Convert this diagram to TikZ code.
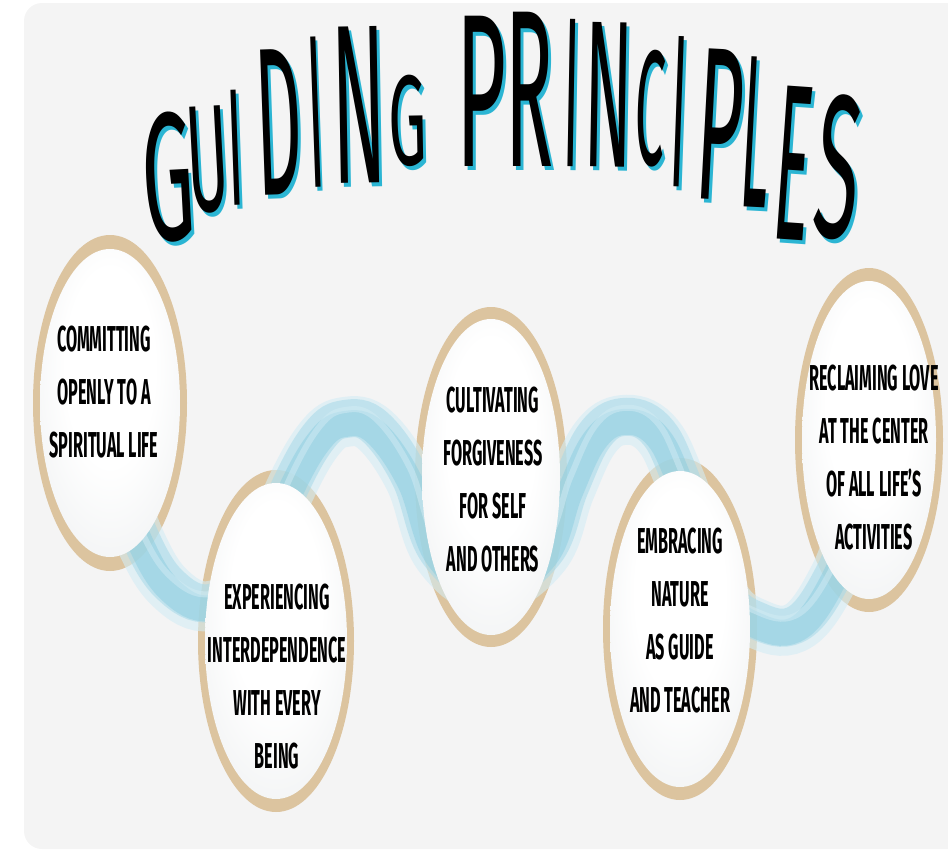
\documentclass[tikz,border=0pt]{standalone}
\usepackage{fontspec}
\setmainfont{Fira Sans}
\usepackage{graphicx}
\definecolor{bgc}{HTML}{F4F4F4}
\definecolor{ringc}{HTML}{DCC49F}
\definecolor{eggmid}{HTML}{EDEFF0}
\definecolor{eggedge}{HTML}{CDD2D5}
\definecolor{shadowc}{HTML}{2BB5D3}
\definecolor{bandA}{HTML}{D3ECF4}
\definecolor{bandB}{HTML}{A7D9E8}
\definecolor{bandC}{HTML}{86CBDF}
\pgfdeclareradialshading{eggshade}{\pgfpoint{0bp}{8bp}}{color(0bp)=(white); color(16bp)=(white); color(38bp)=(eggmid); color(50bp)=(eggedge); color(60bp)=(eggedge)}
\newcommand\sqz[1]{\scalebox{0.45}[1]{\begin{tabular}{@{}c@{}}#1\end{tabular}}}
\newcommand\tletter[7]{%
  \node[tlet, text=shadowc, rotate=#6] at ([xshift=3pt,yshift=-4pt]#2,#3) {\resizebox{#4pt}{#5pt}{#7}};
  \node[tlet, rotate=#6] (#1) at (#2,#3) {\resizebox{#4pt}{#5pt}{#7}};}
\begin{document}
\begin{tikzpicture}[x=1pt,y=-1pt,
  eggtext/.style={inner sep=0pt, font=\fontsize{36}{53}\selectfont\bfseries, text=black},
  tlet/.style={inner sep=0pt, anchor=south, font=\mdseries},
  ring/.style={fill=ringc},
  egg/.style={shading=eggshade}]
\useasboundingbox (0,0) rectangle (948,852);
\clip (0,0) rectangle (948,852);
\fill[bgc, rounded corners=18pt] (24,3) rectangle (985,849);
% centres
\coordinate (c1) at (110,403);
\coordinate (c2) at (276,641);
\coordinate (c3) at (491,477);
\coordinate (c4) at (680,629);
\coordinate (c5) at (869,440);
% rings
\fill[ring] (c1) ellipse [x radius=77pt, y radius=168pt];
\fill[ring] (c2) ellipse [x radius=78pt, y radius=171pt];
\fill[ring] (c3) ellipse [x radius=76pt, y radius=170pt];
\fill[ring] (c4) ellipse [x radius=77pt, y radius=171pt];
\fill[ring] (c5) ellipse [x radius=74pt, y radius=172pt];
% wave band
\def\wave{plot[smooth, tension=0.65] coordinates {(115,470) (140,540) (170,588) (210,606) (255,575) (290,490) (320,438) (345,422) (375,430) (410,480) (438,555) (490,590) (545,555) (570,490) (595,438) (623,420) (655,432) (680,480) (720,590) (760,625) (800,625) (835,575) (855,520)}}
\draw[bandA, line width=50pt, opacity=0.6] \wave;
\draw[bandB, line width=38pt, opacity=0.55, yshift=3pt] \wave;
\draw[bandC, line width=26pt, opacity=0.45, yshift=-2pt] \wave;
\draw[bandA, line width=6pt, opacity=0.5, yshift=12pt] \wave;
% inner eggs
\shade[egg] (c1) ellipse [x radius=70pt, y radius=154pt];
\shade[egg] (c2) ellipse [x radius=71pt, y radius=158pt];
\shade[egg] (c3) ellipse [x radius=69pt, y radius=158pt];
\shade[egg] (c4) ellipse [x radius=70pt, y radius=158pt];
\shade[egg] (c5) ellipse [x radius=67pt, y radius=159pt];
% texts
\node[eggtext] (t1) at (104,394) {\sqz{COMMITTING\\OPENLY TO A\\SPIRITUAL LIFE}};
\node[eggtext] (t2) at (277,678) {\sqz{EXPERIENCING\\INTERDEPENDENCE\\WITH EVERY\\BEING}};
\node[eggtext] (t3) at (493,481) {\sqz{CULTIVATING\\FORGIVENESS\\FOR SELF\\AND OTHERS}};
\node[eggtext] (t4) at (680,622) {\sqz{EMBRACING\\NATURE\\AS GUIDE\\AND TEACHER}};
\node[eggtext] (t5) at (874,459) {\sqz{RECLAIMING LOVE\\AT THE CENTER\\OF ALL LIFE'S\\ACTIVITIES}};
% title
\tletter{g1}{172}{243}{52}{128}{3}{G}
\tletter{u1}{211}{213}{42}{105}{3}{U}
\tletter{i1}{238}{205}{16}{115}{2}{I}
\tletter{d1}{281}{195}{46}{145}{2}{D}
\tletter{i2}{318}{187}{16}{150}{2}{I}
\tletter{n1}{361}{183}{54}{156}{1}{N}
\tletter{g2}{409}{167}{38}{90}{1}{G}
\tletter{p1}{482}{167}{50}{150}{0}{P}
\tletter{r1}{530}{167}{48}{154}{0}{R}
\tletter{i3}{570}{167}{16}{147}{-1}{I}
\tletter{n2}{607}{167}{48}{144}{-1}{N}
\tletter{c6}{648}{167}{30}{115}{-2}{C}
\tletter{i4}{676}{187}{16}{150}{-2}{I}
\tletter{p2}{716}{200}{46}{150}{-3}{P}
\tletter{l1}{752}{207}{28}{150}{-3}{L}
\tletter{e1}{788}{240}{36}{153}{-4}{E}
\tletter{s1}{832}{240}{44}{143}{-5}{S}
\end{tikzpicture}
\end{document}
